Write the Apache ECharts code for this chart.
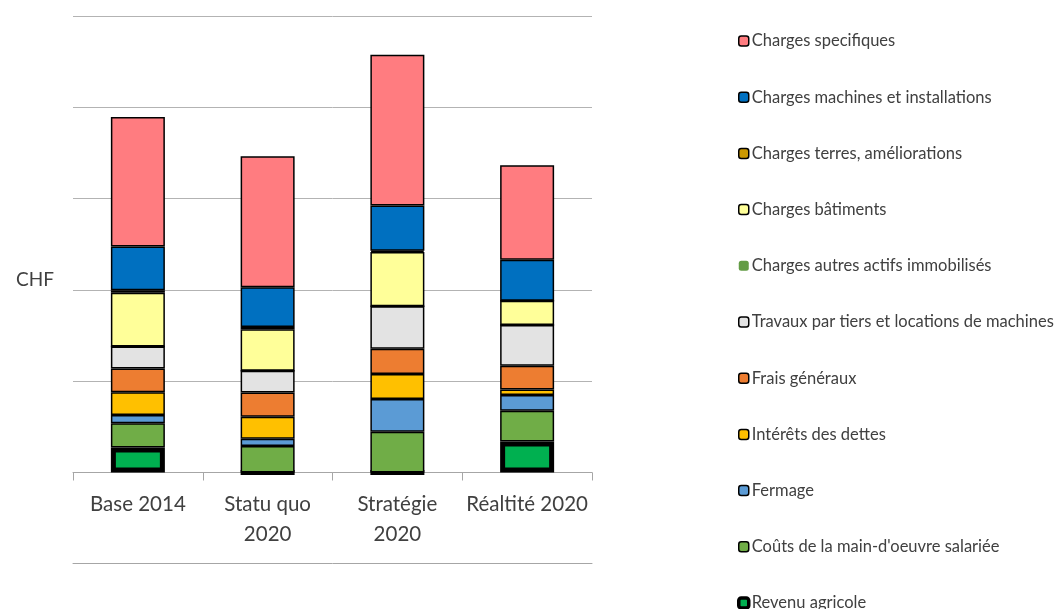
<!DOCTYPE html>
<html><head><meta charset="utf-8">
<script src="https://cdn.jsdelivr.net/npm/echarts@6/dist/echarts.min.js"></script>
<style>html,body{margin:0;padding:0;background:#fff}#c{width:1061px;height:609px}</style>
</head><body><div id="c"></div>
<script>
const categories = ['Base 2014', 'Statu quo\n2020', 'Stratégie\n2020', 'Réaltité 2020'];
const seriesNames = ['Revenu agricole', "Coûts de la main-d'oeuvre salariée", 'Fermage', 'Intérêts des dettes', 'Frais généraux', 'Travaux par tiers et locations de machines', 'Charges autres actifs immobilisés', 'Charges bâtiments', 'Charges terres, améliorations', 'Charges machines et installations', 'Charges specifiques'];
const revenu      = [5.5, 0, 0, 6.8];
const mainOeuvre  = [5.3, 5.8, 8.9, 6.7];
const fermage     = [1.8, 1.6, 7.2, 3.5];
const interets    = [5.0, 4.8, 5.5, 1.2];
const fraisGen    = [5.2, 5.3, 5.5, 5.2];
const travaux     = [4.8, 4.8, 9.3, 8.9];
const autresActifs= [0, 0, 0, 0];
const batiments   = [11.8, 9.1, 11.9, 5.3];
const terres      = [0.5, 0.5, 0.3, 0];
const machines    = [9.6, 8.7, 9.9, 9.0];
const specifiques = [28.4, 28.7, 33.0, 20.7];
const yTicks = [0, 20, 40, 60, 80, 100];

const values = [revenu, mainOeuvre, fermage, interets, fraisGen, travaux, autresActifs, batiments, terres, machines, specifiques];
const colors = ['#00B050', '#70AD47', '#5B9BD5', '#FFC000', '#ED7D31', '#E3E3E3', '#639C45', '#FFFF99', '#CC9900', '#0070C0', '#FF7C80'];

const FONT = 'Lato';
const series = seriesNames.map((n, i) => ({
  name: n, type: 'bar', stack: 'total', barWidth: 54, data: values[i],
  itemStyle: { color: colors[i], borderColor: '#000', borderWidth: i === 0 ? 5 : 1.5 },
  emphasis: { disabled: true }
}));
const legendData = seriesNames.slice().reverse().map(n => {
  const i = seriesNames.indexOf(n);
  const st = { color: colors[i], borderColor: '#000', borderWidth: i === 0 ? 3.5 : 1.5 };
  if (i === 6) st.borderWidth = 0;
  return { name: n, itemStyle: st };
});

const chart = echarts.init(document.getElementById('c'), null, { renderer: 'canvas' });
chart.setOption({
  animation: false,
  backgroundColor: '#fff',
  title: { text: 'CHF', left: 11, top: 265, textStyle: { fontFamily: FONT, fontSize: 19, fontWeight: 'normal', color: '#404040' } },
  grid: { left: 73, right: 469, top: 16, bottom: 136.5, containLabel: false },
  legend: {
    orient: 'vertical', left: 732, top: 27, height: 900, itemWidth: 10, itemHeight: 10, itemGap: 38.2,
    data: legendData, selectedMode: false,
    textStyle: { fontFamily: FONT, fontSize: 16.5, color: '#404040', lineHeight: 18, padding: [0, 0, 0, -2] }
  },
  xAxis: [{
    type: 'category', data: categories,
    axisLine: { lineStyle: { color: '#A6A6A6', width: 1 } },
    axisTick: { show: true, interval: 0, length: 8, lineStyle: { color: '#A6A6A6' } },
    axisLabel: { interval: 0, fontFamily: FONT, fontSize: 20.5, color: '#404040', lineHeight: 30, margin: 17 }
  }, {
    type: 'category', data: categories, position: 'bottom', offset: 91,
    axisLine: { show: true, lineStyle: { color: '#A6A6A6', width: 1 } },
    axisTick: { show: false }, axisLabel: { show: false }
  }],
  yAxis: {
    type: 'value', min: yTicks[0], max: yTicks[yTicks.length - 1], interval: yTicks[1] - yTicks[0],
    axisLine: { show: false }, axisTick: { show: false }, axisLabel: { show: false },
    splitLine: { lineStyle: { color: '#B3B3B3', width: 1 } }
  },
  series: series
});
</script></body></html>
